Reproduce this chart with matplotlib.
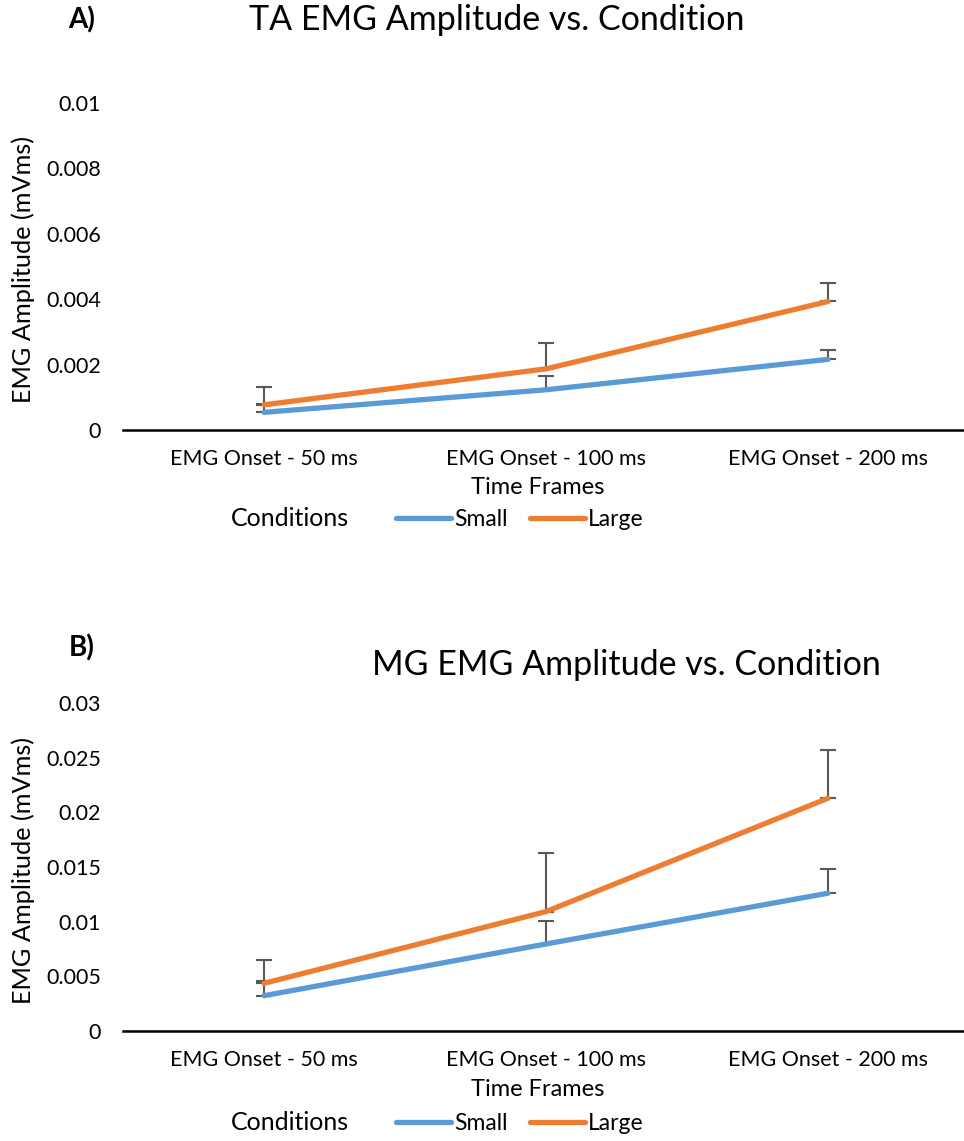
import matplotlib
matplotlib.use("Agg")
import matplotlib.pyplot as plt

plt.rcParams['font.family'] = ['Lato', 'DejaVu Sans']

categories = ["EMG Onset - 50 ms", "EMG Onset - 100 ms", "EMG Onset - 200 ms"]
series_names = ["Small", "Large"]

ta_small = [0.00054, 0.00123, 0.00216]
ta_small_err = [0.00026, 0.00041, 0.00030]
ta_large = [0.00077, 0.00187, 0.00393]
ta_large_err = [0.00056, 0.00078, 0.00057]

mg_small = [0.00323, 0.00796, 0.0126]
mg_small_err = [0.0013, 0.0021, 0.0022]
mg_large = [0.00436, 0.01092, 0.02129]
mg_large_err = [0.0021, 0.0054, 0.0044]

ta_yticks = [0, 0.002, 0.004, 0.006, 0.008, 0.01]
ta_yticklabels = ["0", "0.002", "0.004", "0.006", "0.008", "0.01"]
mg_yticks = [0, 0.005, 0.01, 0.015, 0.02, 0.025, 0.03]
mg_yticklabels = ["0", "0.005", "0.01", "0.015", "0.02", "0.025", "0.03"]

W, H = 964, 1141
fig = plt.figure(figsize=(W / 100, H / 100), dpi=100)

colors = ["#5B9BD5", "#ED7D31"]
errc = "#595959"


def px(x0, ytop, x1, ybot):
    return [x0 / W, 1 - ybot / H, (x1 - x0) / W, (ybot - ytop) / H]


def panel(rect, small, serr, large, lerr, yticks, yticklabels, ymax, title, title_x, title_y,
          letter, letter_y, ylab_y, tf_y, leg_y):
    ax = fig.add_axes(rect)
    xs = list(range(len(categories)))
    for vals, errs, c, name in [(small, serr, colors[0], series_names[0]),
                                (large, lerr, colors[1], series_names[1])]:
        ax.errorbar(xs, vals, yerr=[[0] * len(errs), errs], fmt='none', ecolor=errc,
                    elinewidth=1.5, capsize=6, capthick=1.5, zorder=2)
        ax.plot(xs, vals, color=c, lw=3.8, solid_capstyle='round', label=name, zorder=3)
    ax.set_xlim(-0.5, 2.5)
    ax.set_ylim(0, ymax)
    ax.set_yticks(yticks)
    ax.set_yticklabels(yticklabels, fontsize=15.5)
    ax.set_xticks(xs)
    ax.set_xticklabels(categories, fontsize=15.5)
    ax.tick_params(axis='both', length=0)
    ax.tick_params(axis='y', pad=16)
    ax.tick_params(axis='x', pad=14)
    for s in ['top', 'right', 'left']:
        ax.spines[s].set_visible(False)
    ax.spines['bottom'].set_linewidth(1.8)
    ax.spines['bottom'].set_color('black')
    fig.text(title_x / W, 1 - title_y / H, title, fontsize=24.5, ha='center', va='center')
    fig.text(82 / W, 1 - letter_y / H, letter, fontsize=20, fontweight='bold', ha='center', va='center')
    fig.text(23 / W, 1 - ylab_y / H, "EMG Amplitude (mVms)", fontsize=18.2, rotation=90,
             ha='center', va='center')
    fig.text(538 / W, 1 - tf_y / H, "Time Frames", fontsize=17, ha='center', va='center')
    fig.text(290 / W, 1 - leg_y / H, "Conditions", fontsize=18, ha='center', va='center')
    ax.legend(loc='center left', bbox_to_anchor=(396 / W, 1 - (leg_y + 2) / H),
              bbox_transform=fig.transFigure, ncol=2, frameon=False, fontsize=16.5,
              handlelength=2.4, handletextpad=0.12, columnspacing=1.0, borderpad=0,
              borderaxespad=0)
    return ax


panel(px(123, 103, 969, 430), ta_small, ta_small_err, ta_large, ta_large_err,
      ta_yticks, ta_yticklabels, 0.01, "TA EMG Amplitude vs. Condition", 497, 20,
      "A)", 20, 270, 488, 518)
panel(px(123, 703, 969, 1031), mg_small, mg_small_err, mg_large, mg_large_err,
      mg_yticks, mg_yticklabels, 0.03, "MG EMG Amplitude vs. Condition", 626, 665,
      "B)", 648, 870, 1089, 1122)

fig.savefig("out.png", dpi=100)
